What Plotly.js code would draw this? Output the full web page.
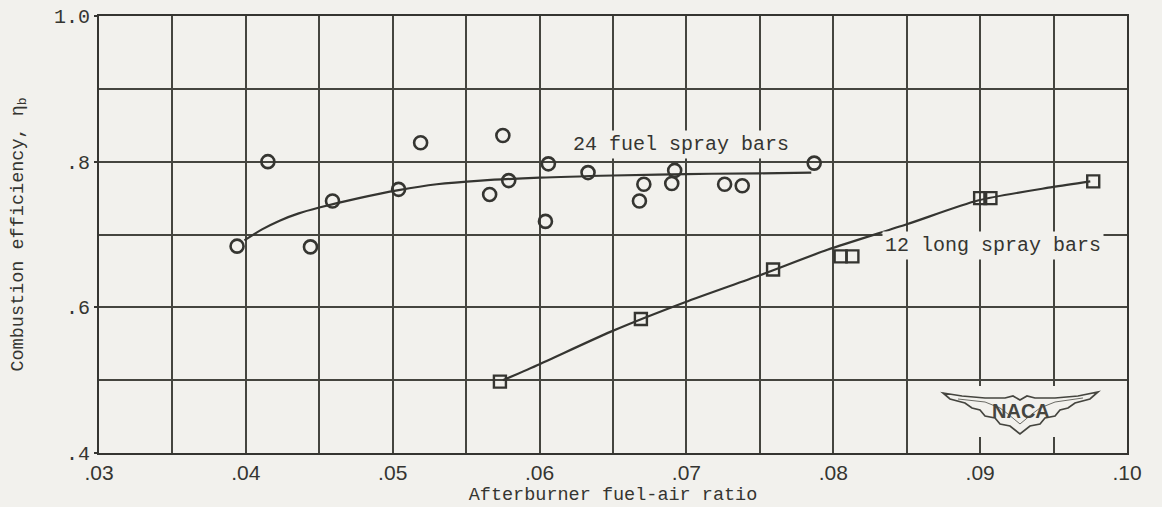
<!DOCTYPE html>
<html>
<head>
<meta charset="utf-8">
<script src="https://cdn.plot.ly/plotly-3.0.1.min.js"></script>
<style>
  html, body { margin: 0; padding: 0; background: #f2f1ed; }
  #chart { width: 1162px; height: 507px; }
</style>
</head>
<body>
<div id="chart"></div>
<script>
// ---- data ----
const spray24X = [0.0394, 0.0415, 0.0444, 0.0459, 0.0504, 0.0519, 0.0566, 0.0575, 0.0579, 0.0604,
                  0.0606, 0.0633, 0.0668, 0.0671, 0.0690, 0.0692, 0.0726, 0.0738, 0.0787];
const spray24Y = [0.684, 0.800, 0.683, 0.746, 0.762, 0.826, 0.755, 0.836, 0.774, 0.718,
                  0.797, 0.785, 0.746, 0.769, 0.770, 0.788, 0.769, 0.767, 0.798];
const curve24X = [0.0399, 0.0411, 0.0423, 0.0436, 0.0450, 0.0477, 0.0504, 0.0530, 0.0560, 0.0600,
                  0.0650, 0.0700, 0.0750, 0.0785];
const curve24Y = [0.692, 0.707, 0.719, 0.729, 0.737, 0.750, 0.761, 0.769, 0.774, 0.778,
                  0.781, 0.783, 0.784, 0.785];

const long12X = [0.0573, 0.0669, 0.0759, 0.0805, 0.0813, 0.0900, 0.0907, 0.0977];
const long12Y = [0.498, 0.584, 0.652, 0.670, 0.670, 0.750, 0.750, 0.773];
const curve12X = [0.0575, 0.0600, 0.0649, 0.0699, 0.0750, 0.0796, 0.0850, 0.0899, 0.0949, 0.0975];
const curve12Y = [0.500, 0.522, 0.567, 0.607, 0.644, 0.679, 0.714, 0.747, 0.765, 0.773];

const xTickVals = [0.03, 0.04, 0.05, 0.06, 0.07, 0.08, 0.09, 0.10];
const xTickText = ['.03', '.04', '.05', '.06', '.07', '.08', '.09', '.10'];
const yTickVals = [0.4, 0.6, 0.8, 1.0];
const yTickText = ['.4', '.6', '.8', '1.0'];

const label24 = '24 fuel spray bars';
const label12 = '12 long spray bars';
const xTitle = 'Afterburner fuel-air ratio';
const yTitle = 'Combustion efficiency, η<sub>b</sub>';

// ---- styling ----
const paper = '#f2f1ed';
const ink = '#353531';
const gridInk = '#45453f';
const mono = '"Courier New", "Liberation Mono", monospace';

// plot area in page pixels (for decoration placement)
const L = 99, R = 1127, T = 16, B = 453;
function P(px, py) { return [(px - L) / (R - L), (B - py) / (B - T)]; }
function openPath(pts) {
  return pts.map((p, i) => { const q = P(p[0], p[1]); return (i ? 'L' : 'M') + q[0].toFixed(4) + ',' + q[1].toFixed(4); }).join(' ');
}
function pathFrom(pts) { return openPath(pts) + ' Z'; }
const wing = [[943,393],[962,396],[985,398],[1005,398],[1013,396],[1020,400],[1027,396],[1035,398],
              [1055,398],[1078,396],[1098,392],[1090,399],[1075,403],[1068,408],[1060,410],[1055,416],
              [1045,418],[1040,424],[1030,426],[1020,434],[1010,426],[1000,424],[995,418],[985,416],
              [980,410],[972,408],[965,403],[950,399]];
const wingInner = [[958,399],[985,402],[1000,408],[1008,414],[1020,424],[1032,414],[1040,408],[1055,402],[1083,398]];

const traces = [
  { x: curve24X, y: curve24Y, type: 'scatter', mode: 'lines', line: { color: ink, width: 2.2, shape: 'spline', smoothing: 1 },
    hoverinfo: 'skip', showlegend: false },
  { x: curve12X, y: curve12Y, type: 'scatter', mode: 'lines', line: { color: ink, width: 2.2, shape: 'spline', smoothing: 0.7 },
    hoverinfo: 'skip', showlegend: false },
  { x: spray24X, y: spray24Y, type: 'scatter', mode: 'markers', name: label24,
    marker: { symbol: 'circle-open', size: 13, color: ink, line: { width: 2.6, color: ink } }, showlegend: false },
  { x: long12X, y: long12Y, type: 'scatter', mode: 'markers', name: label12,
    marker: { symbol: 'square-open', size: 12, color: ink, line: { width: 2.4, color: ink } }, showlegend: false }
];

const layout = {
  width: 1162, height: 507,
  margin: { l: L, r: 1162 - R, t: T, b: 507 - B },
  paper_bgcolor: paper, plot_bgcolor: paper,
  showlegend: false,
  xaxis: {
    range: [0.03, 0.10], tickmode: 'array', tickvals: xTickVals, ticktext: xTickText,
    showgrid: true, gridcolor: gridInk, gridwidth: 2, zeroline: false,
    minor: { dtick: 0.005, tick0: 0.03, showgrid: true, gridcolor: gridInk, gridwidth: 2, ticks: '' },
    showline: true, mirror: true, linecolor: ink, linewidth: 2,
    ticks: '', tickfont: { family: '"Liberation Sans", Arial, sans-serif', size: 21, color: ink },
    title: { text: xTitle, font: { family: mono, size: 18.5, color: ink }, standoff: 4 },
    automargin: false
  },
  yaxis: {
    range: [0.4, 1.0], tickmode: 'array', tickvals: yTickVals, ticktext: yTickText,
    showgrid: true, gridcolor: gridInk, gridwidth: 2, zeroline: false,
    minor: { dtick: 0.1, tick0: 0.4, showgrid: true, gridcolor: gridInk, gridwidth: 2, ticks: '' },
    showline: true, mirror: true, linecolor: ink, linewidth: 2,
    ticks: 'outside', ticklen: 3, tickwidth: 2, tickcolor: ink,
    tickfont: { family: mono, size: 20, color: ink },
    title: { text: yTitle, font: { family: mono, size: 18.5, color: ink }, standoff: 26 },
    automargin: false
  },
  annotations: [
    { x: 0.0696, y: 0.823, xref: 'x', yref: 'y', text: label24, showarrow: false,
      font: { family: mono, size: 20, color: ink }, bgcolor: paper, borderpad: 2 },
    { x: 0.0909, y: 0.6854, xref: 'x', yref: 'y', text: label12, showarrow: false,
      font: { family: mono, size: 20, color: ink }, bgcolor: paper, borderpad: 2 },
    { x: P(1021, 411)[0], y: P(1021, 411)[1], xref: 'paper', yref: 'paper', xanchor: 'center', yanchor: 'middle',
      text: '<b>NACA</b>', showarrow: false,
      font: { family: '"Liberation Sans Narrow", "Liberation Sans", Arial, sans-serif', size: 20, color: '#45453f' } }
  ],
  shapes: [
    { type: 'rect', xref: 'paper', yref: 'paper', layer: 'above',
      x0: P(940, 386)[0], y0: P(940, 386)[1], x1: P(1101, 437)[0], y1: P(1101, 437)[1],
      fillcolor: paper, line: { width: 0 } },
    { type: 'path', xref: 'paper', yref: 'paper', layer: 'above', path: pathFrom(wing),
      fillcolor: paper, line: { color: '#45453f', width: 1.7 } },
    { type: 'path', xref: 'paper', yref: 'paper', layer: 'above', path: openPath(wingInner),
      line: { color: '#6a6a64', width: 1 } }
  ]
};

Plotly.newPlot('chart', traces, layout, { staticPlot: true, displayModeBar: false });
</script>
</body>
</html>
